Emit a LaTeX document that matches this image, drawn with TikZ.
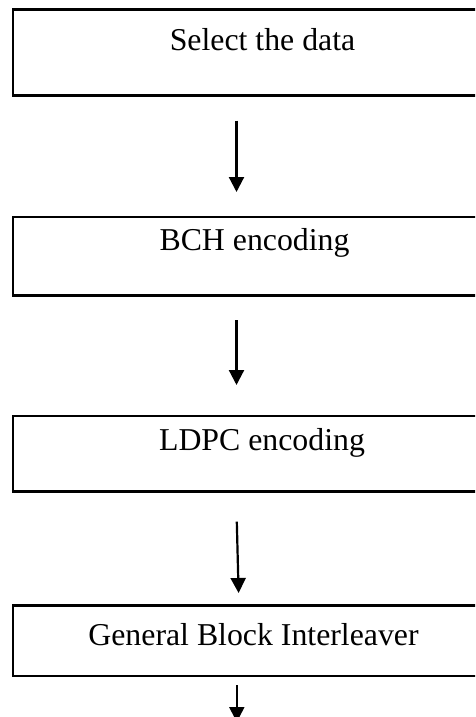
\documentclass[tikz,border=0pt]{standalone}
\usepackage{fontspec}
\setmainfont{Liberation Serif}
\usetikzlibrary{arrows.meta}
\begin{document}
\begin{tikzpicture}[x=1pt,y=-1pt,
  stagebox/.style={draw=black,line width=2.4pt,rectangle},
  stagetext/.style={anchor=base,inner sep=0pt,font=\fontsize{31.8}{36}\selectfont},
  flow/.style={line width=2.2pt,-{Triangle[width=15pt,length=15pt]}}]
\useasboundingbox (0,0) rectangle (475,717);
\clip (0,0) rectangle (475,717);
\fill[white] (0,0) rectangle (475,717);
% boxes (right edge lies beyond the frame)
\draw[stagebox] (13,9.5) rectangle (520,95.5);
\draw[stagebox] (13,217) rectangle (520,295.5);
\draw[stagebox] (13,416) rectangle (520,491.5);
\draw[stagebox] (13,605.5) rectangle (520,676);
% texts
\node[stagetext] (t1) at (262.5,51) {Select the data};
\node[stagetext] (t2) at (254.5,250) {BCH encoding};
\node[stagetext] (t3) at (262,450.5) {LDPC encoding};
\node[stagetext] (t4) at (253.5,645.5) {General Block Interleaver};
% arrow ends
\coordinate (a1s) at (236.5,120.5);
\coordinate (a1e) at (236.5,192);
\coordinate (a2s) at (236.5,320);
\coordinate (a2e) at (236.5,385);
\coordinate (a3s) at (236.8,521.7);
\coordinate (a3e) at (238.6,593);
\coordinate (a4s) at (236.8,685);
\coordinate (a4e) at (236.8,722);
\draw[flow] (a1s) -- (a1e);
\draw[flow] (a2s) -- (a2e);
\draw[flow] (a3s) -- (a3e);
\draw[flow] (a4s) -- (a4e);
\end{tikzpicture}
\end{document}
